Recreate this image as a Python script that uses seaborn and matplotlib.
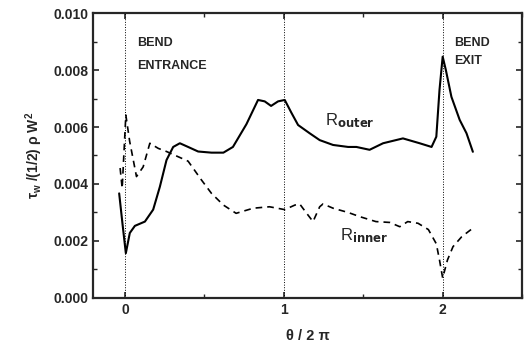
import numpy as np
import pandas as pd
import matplotlib.pyplot as plt
import seaborn as sns
from matplotlib.ticker import MultipleLocator, FormatStrFormatter

sns.set_style('ticks')
plt.rcParams['font.family'] = ['Liberation Sans', 'DejaVu Sans']
plt.rcParams['font.weight'] = 'bold'
plt.rcParams['mathtext.default'] = 'regular'

# R_outer (solid)
theta_outer = [-0.036, -0.015, 0.006, 0.031, 0.063, 0.126, 0.178, 0.22, 0.262, 0.304, 0.346,
               0.398, 0.461, 0.545, 0.62, 0.68, 0.765, 0.838, 0.88, 0.92, 0.964, 1.006,
               1.048, 1.09, 1.163, 1.226, 1.31, 1.405, 1.457, 1.54, 1.625, 1.75, 1.855,
               1.93, 1.96, 1.98, 2.0, 2.02, 2.055, 2.107, 2.15, 2.19]
tau_outer = [0.00367, 0.0026, 0.00157, 0.00228, 0.00253, 0.00268, 0.0031, 0.0039, 0.00484,
             0.0053, 0.00543, 0.0053, 0.00514, 0.0051, 0.0051, 0.0053, 0.0061, 0.00695,
             0.0069, 0.00674, 0.0069, 0.00695, 0.0065, 0.00607, 0.00578, 0.00554, 0.00537,
             0.0053, 0.0053, 0.0052, 0.00543, 0.0056, 0.00543, 0.0053, 0.00566, 0.0073,
             0.00847, 0.008, 0.00706, 0.00625, 0.00578, 0.00513]

# R_inner (dashed)
theta_inner = [-0.03, -0.017, 0.006, 0.03, 0.073, 0.115, 0.157, 0.21, 0.262, 0.398, 0.482,
               0.545, 0.62, 0.70, 0.808, 0.91, 1.006, 1.07, 1.1, 1.14, 1.184, 1.226, 1.247,
               1.31, 1.405, 1.48, 1.58, 1.667, 1.73, 1.78, 1.845, 1.91, 1.96, 1.98, 2.0,
               2.03, 2.065, 2.12, 2.19]
tau_inner = [0.00456, 0.00385, 0.00642, 0.0055, 0.00426, 0.0046, 0.00543, 0.00525, 0.00514,
             0.0048, 0.00414, 0.00367, 0.00326, 0.00297, 0.00315, 0.0032, 0.0031, 0.00326,
             0.0033, 0.003, 0.00268, 0.0032, 0.0033, 0.00315, 0.003, 0.00285, 0.00268,
             0.00265, 0.0025, 0.00268, 0.00262, 0.0024, 0.0019, 0.00133, 0.0007, 0.00133,
             0.0018, 0.00215, 0.00245]

bend_positions = [0, 1, 2]

df_out = pd.DataFrame({'theta': theta_outer, 'tau': tau_outer})
df_in = pd.DataFrame({'theta': theta_inner, 'tau': tau_inner})

fig = plt.figure(figsize=(5.29, 3.53), dpi=100)
ax = fig.add_axes([0.176, 0.156, 0.811, 0.807])

for b in bend_positions:
    ax.axvline(b, color='k', lw=0.7, ls=':')

sns.lineplot(data=df_out, x='theta', y='tau', ax=ax, color='k', lw=1.5, sort=False)
sns.lineplot(data=df_in, x='theta', y='tau', ax=ax, color='k', lw=1.2, sort=False,
             linestyle=(0, (4, 3)))

ax.set_xlim(-0.2, 2.5)
ax.set_ylim(0, 0.010)
ax.xaxis.set_major_locator(MultipleLocator(1))
ax.xaxis.set_minor_locator(MultipleLocator(0.5))
ax.yaxis.set_major_locator(MultipleLocator(0.002))
ax.yaxis.set_minor_locator(MultipleLocator(0.001))
ax.yaxis.set_major_formatter(FormatStrFormatter('%.3f'))
ax.tick_params(which='both', direction='in', top=True, right=True, labelsize=10)
ax.tick_params(which='major', length=4, width=1.2)
ax.tick_params(which='minor', length=3, width=1.0)
for s in ax.spines.values():
    s.set_linewidth(1.6)

ax.set_xlabel('θ / 2 π', fontsize=10.5, fontweight='bold', labelpad=9)
ax.set_ylabel(r'$\tau_w$ /(1/2) ρ W$^2$', fontsize=10, fontweight='bold', labelpad=6)

ax.text(0.075, 0.00895, 'BEND', fontsize=9, fontweight='bold', va='center')
ax.text(0.075, 0.00814, 'ENTRANCE', fontsize=9, fontweight='bold', va='center')
ax.text(2.075, 0.00895, 'BEND', fontsize=9, fontweight='bold', va='center')
ax.text(2.075, 0.0083, 'EXIT', fontsize=9, fontweight='bold', va='center')
ax.text(1.258, 0.00607, r'R$_{\mathrm{outer}}$', fontsize=12, fontweight='normal')
ax.text(1.352, 0.00204, r'R$_{\mathrm{inner}}$', fontsize=12, fontweight='normal')

fig.savefig('out.png', dpi=100)
